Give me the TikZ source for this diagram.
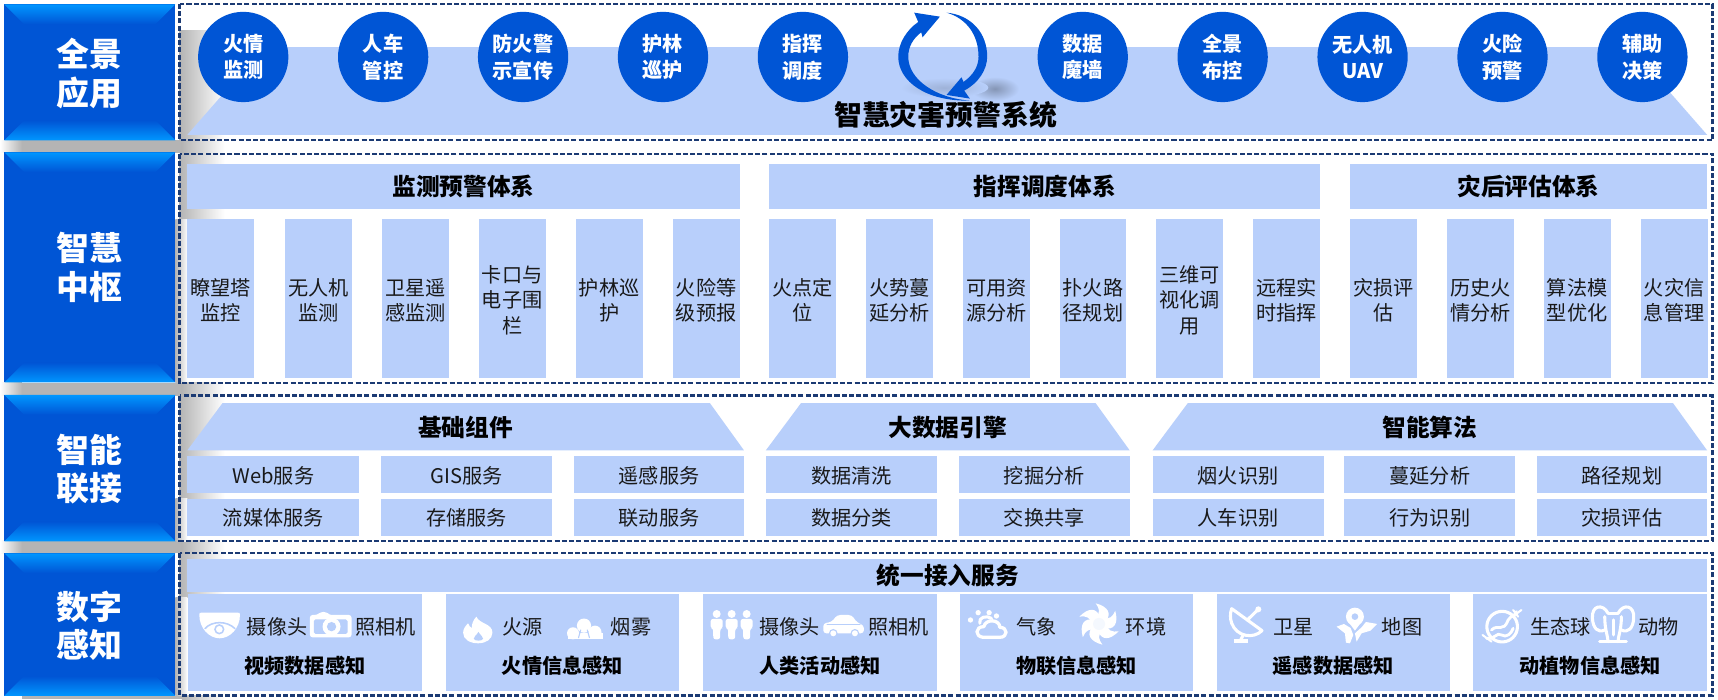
\documentclass[tikz,border=0pt]{standalone}
\usepackage{fontspec}
\setmainfont{Noto Sans CJK SC}
\usetikzlibrary{calc}
\definecolor{lightb}{HTML}{B8CFFB}
\definecolor{deepb}{HTML}{0055D5}
\definecolor{brightb}{HTML}{0096FF}
\definecolor{framec}{HTML}{1B3A73}
\definecolor{shadowg}{HTML}{B4B4B4}
\newcommand{\fsz}[2]{\fontsize{#1}{#2}\selectfont}
\tikzset{
  blocktext/.style={text=white,align=center,inner sep=0pt,font=\fsz{15}{17.6}\bfseries},
  circlenode/.style={circle,fill=deepb,minimum size=41.2pt,inner sep=0pt,text=white,align=center,font=\fsz{9.2}{12.2}\bfseries},
  headtext/.style={inner sep=0pt,text=black,align=center,font=\fsz{10.8}{13}\bfseries},
  bodytext/.style={inner sep=0pt,text=black!90,align=center,font=\fsz{9.2}{11.5}},
  foottext/.style={inner sep=0pt,text=black,align=center,font=\fsz{9.2}{11}\bfseries},
  framebox/.style={draw=framec,line width=1.1pt,dash pattern=on 2.3pt off 1pt},
  lightfill/.style={fill=lightb},
  icon/.style={fill=white,draw=none},
  iconline/.style={draw=white,line width=1.4pt,line cap=round,line join=round},
  cutline/.style={draw=lightb,line width=.7pt,line cap=round},
  zoomA/.style={shift={(173.4,547.6)},x=.152pt,y=-.152pt},
  zoomB/.style={shift={(638.9,547.6)},x=.152pt,y=-.152pt},
  zoomC/.style={shift={(1113.5,547.6)},x=.152pt,y=-.152pt},
}
\newcommand{\bevelblock}[2]{% y1, y2
  \fill[deepb] (4,#1) rectangle (160,#2);
  \shade[top color=brightb,bottom color=deepb] (4,#1) -- (160,#1) -- (142,#1+18) -- (22,#1+18) -- cycle;
  \shade[top color=deepb,bottom color=brightb] (22,#2-18) -- (142,#2-18) -- (160,#2) -- (4,#2) -- cycle;
}
\newcommand{\gapbar}[1]{% gap between rows
  \shade[left color=white,right color=shadowg] (0,#1) rectangle (20,#1+11.5);
  \fill[shadowg] (20,#1) rectangle (166,#1+11.5);
  \shade[left color=shadowg,right color=white] (166,#1) rectangle (205,#1+11.5);
}
\newcommand{\sidefade}[2]{\shade[left color=shadowg,right color=white] (164,#1) rectangle (205,#2);}
\begin{document}
\begin{tikzpicture}[x=.5pt,y=-.5pt]
\useasboundingbox (0,0) rectangle (1568,638);
\fill[white] (0,0) rectangle (1568,638);

% shadows
\gapbar{128}\gapbar{349.5}\gapbar{493.5}
\fill[shadowg] (20,635) rectangle (166,638);
\shade[left color=shadowg,right color=white] (166,635) rectangle (205,638);
\sidefade{28}{128}
\sidefade{140}{200}
\sidefade{361}{455}
\sidefade{505}{545}
\shade[left color=shadowg,right color=white] (160,200) rectangle (171,349);
\shade[left color=shadowg,right color=white] (160,455) rectangle (171,494);
\shade[left color=shadowg,right color=white] (160,545) rectangle (171,635);

% side blocks
\bevelblock{4}{128}
\bevelblock{139}{349}
\bevelblock{360.5}{494}
\bevelblock{505}{635}
\node[blocktext] (b1) at (82,67) {全景\\应用};
\node[blocktext] (b2) at (82,244) {智慧\\中枢};
\node[blocktext] (b3) at (82,428) {智能\\联接};
\node[blocktext] (b4) at (82,571) {数字\\感知};

% row 1
\fill[lightb] (241,43) -- (1488,43) -- (1558,123) -- (171,123) -- cycle;
\shade[inner color=black!28!lightb,outer color=lightb] (908,81) ellipse (22 and 11);
\shade[inner color=black!14!lightb,outer color=lightb] (862,80) ellipse (40 and 9);
\foreach \x/\t [count=\i] in {222/{火情\\监测},349.7/{人车\\管控},477.4/{防火警\\示宣传},605.1/{护林\\巡护},732.8/{指挥\\调度},988.2/{数据\\魔墙},1115.9/{全景\\布控},1243.6/{无人机\\UAV},1371.3/{火险\\预警},1499/{辅助\\决策}}
  \node[circlenode] (c\i) at (\x,52) {\t};
\begin{scope}[shift={(711.9,0)},x=.152pt,y=-.152pt]
  \fill[deepb] (570,302) .. controls (440,305) and (355,245) .. (355,170) .. controls (355,130) and (380,90) .. (415,66) -- (403,38) -- (480,50) -- (428,112) -- (424,97) .. controls (400,115) and (385,140) .. (385,170) .. controls (385,240) and (470,295) .. (570,302) -- cycle;
  \fill[deepb] (500,38) .. controls (575,45) and (622,100) .. (622,170) .. controls (622,210) and (595,250) .. (553,272) -- (570,296) -- (500,285) -- (545,232) -- (551,246) .. controls (580,225) and (596,200) .. (596,170) .. controls (596,105) and (560,55) .. (500,38) -- cycle;
\end{scope}
\node[headtext,font=\fsz{12.7}{15}\bfseries] (title) at (863,105) {智慧灾害预警系统};

% row 2
\foreach \a/\b/\t [count=\i] in {171/675/监测预警体系,702/1205/指挥调度体系,1232/1558/灾后评估体系}{
  \fill[lightfill] (\a,150) rectangle (\b,191);
  \node[headtext] (h\i) at ({(\a+\b)/2},170.5) {\t};
}
\foreach \x/\t [count=\i] in {171/{瞭望塔\\监控},260/{无人机\\监测},348.5/{卫星遥\\感监测},437/{卡口与\\电子围\\栏},525.5/{护林巡\\护},614/{火险等\\级预报},702/{火点定\\位},790.5/{火势蔓\\延分析},879/{可用资\\源分析},967/{扑火路\\径规划},1055.5/{三维可\\视化调\\用},1144/{远程实\\时指挥},1232/{灾损评\\估},1320.6/{历史火\\情分析},1409/{算法模\\型优化},1497.5/{火灾信\\息管理}}{
  \fill[lightfill] (\x,200) rectangle (\x+61,345);
  \node[bodytext] (k\i) at (\x+30.5,274) {\t};
}

% row 3
\foreach \a/\b/\t [count=\i] in {171/679/基础组件,699/1031/大数据引擎,1052/1558/智能算法}{
  \fill[lightfill] (\a,411) -- (\a+32,368) -- (\b-31,368) -- (\b,411) -- cycle;
  \node[headtext] (t\i) at ({(\a+\b)/2},390) {\t};
}
\foreach \a/\b/\t/\u [count=\i] in {171/328/Web服务/流媒体服务,348/504/GIS服务/存储服务,524/679/遥感服务/联动服务,699/855/数据清洗/数据分类,875/1031/挖掘分析/交换共享,1052/1208/烟火识别/人车识别,1227/1383/蔓延分析/行为识别,1402.5/1558/路径规划/灾损评估}{
  \fill[lightfill] (\a,416) rectangle (\b,450);
  \fill[lightfill] (\a,455.5) rectangle (\b,489);
  \node[bodytext] (s\i) at ({(\a+\b)/2},434) {\t};
  \node[bodytext] (u\i) at ({(\a+\b)/2},473) {\u};
}

% row 4
\fill[lightfill] (171,510) rectangle (1558,540);
\node[headtext] (acc) at (865,525) {统一接入服务};
\foreach \a/\b/\t [count=\i] in {171.5/385/视频数据感知,407/619.5/火情信息感知,642/855/人类活动感知,876/1089/物联信息感知,1110.6/1323/遥感数据感知,1344.7/1558/动植物信息感知}{
  \fill[lightfill] (\a,542) rectangle (\b,631);
  \node[foottext] (f\i) at ({(\a+\b)/2},608) {\t};
}
\foreach \x/\t [count=\i] in {253/摄像头,352/照相机,477/火源,576/烟雾,720.7/摄像头,820/照相机,946/气象,1046/环境,1180.4/卫星,1279.6/地图,1424/生态球,1513.5/动物}
  \node[bodytext] (l\i) at (\x,572) {\t};

% icons of the first and second boxes
\begin{scope}[zoomA]
  \fill[icon] (28,45) .. controls (28,38) .. (36,38) -- (142,38) .. controls (150,38) .. (150,45) .. controls (150,85) and (120,115) .. (89,115) .. controls (58,115) and (28,85) .. (28,45) -- cycle;
  \draw[cutline] (45,86) .. controls (65,62) and (112,62) .. (135,86);
  \draw[cutline] (88,88) circle (13);
  \fill[icon,rounded corners=1.2pt] (360,45) -- (382,45) -- (392,36) -- (410,36) -- (418,45) -- (485,45) -- (485,112) -- (360,112) -- cycle;
  \fill[lightb,rounded corners=.8pt] (372,58) rectangle (473,102);
  \fill[icon] (425,80) circle (27);
  \fill[lightb] (425,80) circle (14);
  \fill[icon] (860,50) .. controls (868,72) and (908,70) .. (908,98) .. controls (908,118) and (888,130) .. (865,130) .. controls (840,130) and (820,118) .. (820,98) .. controls (820,85) and (830,75) .. (835,70) .. controls (838,78) and (842,82) .. (846,84) .. controls (846,72) and (850,60) .. (860,50) -- cycle;
  \fill[lightb] (866,96) .. controls (872,106) and (880,110) .. (880,116) .. controls (880,124) and (852,124) .. (852,116) .. controls (852,110) and (860,106) .. (866,96) -- cycle;
\end{scope}
% smoke
\fill[icon] (518,583) -- (550,583) -- (550,578) -- (518,578) -- cycle;
\fill[icon] (523,578) circle (5.5);
\fill[icon] (533,571) circle (6.5);
\fill[icon] (543,577) circle (6);
\draw[cutline,line width=.5pt] (528,582) -- (530,575) (538,582) -- (536,575);

% icons of the third and fourth boxes
\begin{scope}[zoomB]
  \foreach \x in {50,95,140}{
    \fill[icon] (\x,42) circle (12);
    \fill[icon,rounded corners=1pt] (\x-18,57) -- (\x+18,57) -- (\x+18,85) -- (\x+11,85) -- (\x+10,118) -- (\x-10,118) -- (\x-11,85) -- (\x-18,85) -- cycle;
  }
  \fill[icon,rounded corners=1.4pt] (370,100) -- (370,70) -- (395,66) -- (412,45) -- (455,45) -- (472,68) -- (492,76) -- (492,100) -- cycle;
  \draw[cutline] (382,74) -- (480,74);
  \fill[lightb] (400,100) circle (13);\fill[lightb] (465,100) circle (13);
  \fill[icon] (400,100) circle (9);\fill[icon] (465,100) circle (9);
  \draw[iconline,line width=1.5pt] (850,112) .. controls (825,110) and (825,80) .. (852,80) .. controls (858,55) and (900,58) .. (900,82) .. controls (925,82) and (925,112) .. (900,112) -- cycle;
  \draw[iconline,line width=1.4pt] (840,70) .. controls (835,52) and (860,45) .. (875,55);
  \foreach \p in {(812,60),(835,38),(868,38),(890,48)} \fill[icon] \p circle (8);
  \foreach \a in {0,60,...,300}{
    \begin{scope}[shift={(1198,72)},rotate=\a]
      \fill[icon] (18,-6) .. controls (40,-30) and (28,-52) .. (-10,-62) .. controls (2,-45) and (5,-35) .. (-12,-14) -- cycle;
    \end{scope}
  }
  \fill[white!85!lightb] (1198,72) circle (18);
\end{scope}

% icons of the fifth and sixth boxes
\begin{scope}[zoomC]
  \draw[iconline] (35,26) -- (126,92) .. controls (100,118) and (50,110) .. (35,70) .. controls (30,55) and (30,40) .. (35,26) -- cycle;
  \draw[iconline] (82,60) -- (115,28);
  \fill[icon] (115,28) circle (9);
  \draw[iconline] (68,108) -- (62,120);
  \fill[icon] (42,118) rectangle (84,130);
  \fill[icon] (405,50) circle (27);
  \fill[icon] (381,60) -- (429,60) -- (405,92) -- cycle;
  \fill[lightb] (405,50) circle (10);
  \fill[icon] (350,80) -- (372,72) -- (392,84) -- (400,105) -- (390,130) -- (378,128) -- (375,100) -- cycle;
  \fill[icon] (425,82) -- (438,66) -- (472,72) -- (452,92) -- (425,100) -- (410,125) -- (405,100) -- cycle;
  \draw[iconline] (847,80) circle (46);
  \draw[iconline,line width=1.3pt] (815,90) .. controls (835,70) and (850,100) .. (865,60) .. controls (875,45) and (885,50) .. (890,35);
  \draw[iconline,line width=1.3pt] (800,115) .. controls (825,120) and (830,95) .. (845,105) .. controls (860,115) and (875,100) .. (880,85);
  \draw[iconline,line width=.9pt] (885,45) -- (905,30) (880,30) -- (895,50) (788,105) -- (815,125);
  \draw[iconline] (1165,40) .. controls (1150,10) and (1115,15) .. (1118,55) .. controls (1120,85) and (1135,100) .. (1155,90);
  \draw[iconline] (1195,40) .. controls (1210,10) and (1245,15) .. (1242,55) .. controls (1240,85) and (1225,100) .. (1205,90);
  \draw[iconline] (1165,40) -- (1195,40);
  \draw[iconline] (1155,50) .. controls (1155,90) and (1165,110) .. (1165,125) (1205,50) .. controls (1205,90) and (1195,110) .. (1195,125);
  \draw[iconline] (1180,60) -- (1180,105);
  \draw[iconline] (1140,125) -- (1220,125);
\end{scope}

% dashed frames
\draw[framebox] (164,3.6) rectangle (1563,128);
\draw[framebox] (164,140.5) rectangle (1563,349.5);
\draw[framebox] (164,361) rectangle (1563,494);
\draw[framebox] (164,504.5) rectangle (1563,634.6);
\end{tikzpicture}
\end{document}
